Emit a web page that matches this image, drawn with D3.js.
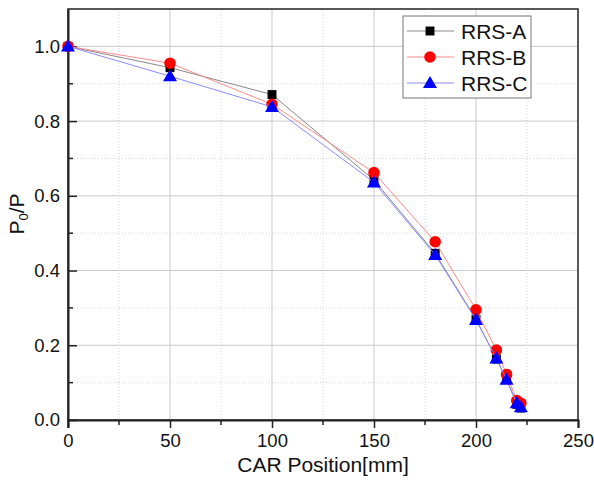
<!DOCTYPE html>
<html>
<head>
<meta charset="utf-8">
<script src="https://cdn.jsdelivr.net/npm/d3@7"></script>
<style>
  body { margin: 0; background: #fff; }
  text { font-family: Arial, "Liberation Sans", sans-serif; fill: #111; }
</style>
</head>
<body>
<div id="chart"></div>
<script>
// CAR positions (mm)
var carPosition = [0, 50, 100, 150, 180, 200, 210, 215, 220, 222];

// P0/P for each series
var rrsA = [1.0, 0.943, 0.871, 0.642, 0.446, 0.270, 0.163, 0.108, 0.042, 0.032];
var rrsB = [1.0, 0.955, 0.845, 0.662, 0.477, 0.295, 0.187, 0.122, 0.052, 0.045];
var rrsC = [1.0, 0.920, 0.838, 0.636, 0.442, 0.268, 0.165, 0.108, 0.045, 0.034];

var seriesNames = ["RRS-A", "RRS-B", "RRS-C"];

var xTicks = [0, 50, 100, 150, 200, 250];
var yTicks = [0.0, 0.2, 0.4, 0.6, 0.8, 1.0];
var xMinor = [25, 75, 125, 175, 225];
var yMinor = [0.1, 0.3, 0.5, 0.7, 0.9];

// SVG dimensions
var svgWidth = 594;
var svgHeight = 486;

var margin = { top: 9, right: 16, bottom: 66, left: 68 };
var chartWidth = svgWidth - margin.left - margin.right;
var chartHeight = svgHeight - margin.top - margin.bottom;

var svg = d3.select("#chart")
    .append("svg")
    .attr("width", svgWidth)
    .attr("height", svgHeight);

var chartGroup = svg.append("g")
    .attr("transform", `translate(${margin.left}, ${margin.top})`);

// Scales
var xScale = d3.scaleLinear().domain([0, 250]).range([0, chartWidth]);
var yScale = d3.scaleLinear().domain([0, 1.1]).range([chartHeight, 0]);

// Grid lines (minor dotted, major solid)
chartGroup.selectAll(".xminor").data(xMinor).enter().append("line")
    .attr("x1", d => xScale(d)).attr("x2", d => xScale(d))
    .attr("y1", 0).attr("y2", chartHeight)
    .attr("stroke", "#d8d8d8").attr("stroke-dasharray", "1,2");
chartGroup.selectAll(".yminor").data(yMinor).enter().append("line")
    .attr("x1", 0).attr("x2", chartWidth)
    .attr("y1", d => yScale(d)).attr("y2", d => yScale(d))
    .attr("stroke", "#d8d8d8").attr("stroke-dasharray", "1,2");
chartGroup.selectAll(".xmajor").data(xTicks.slice(1, -1)).enter().append("line")
    .attr("x1", d => xScale(d)).attr("x2", d => xScale(d))
    .attr("y1", 0).attr("y2", chartHeight)
    .attr("stroke", "#cacaca");
chartGroup.selectAll(".ymajor").data(yTicks.slice(1)).enter().append("line")
    .attr("x1", 0).attr("x2", chartWidth)
    .attr("y1", d => yScale(d)).attr("y2", d => yScale(d))
    .attr("stroke", "#cacaca");

// Frame on top and right
chartGroup.append("rect")
    .attr("width", chartWidth).attr("height", chartHeight)
    .attr("fill", "none").attr("stroke", "#222").attr("stroke-width", 1.5);

// Bottom axis, ticks pointing out
var bottomAxis = d3.axisBottom(xScale).tickValues(xTicks).tickSize(8).tickPadding(6)
    .tickFormat(d3.format("d"));
var xAxisG = chartGroup.append("g")
    .attr("transform", `translate(0, ${chartHeight})`)
    .call(bottomAxis);
xAxisG.selectAll(".xminortick").data(xMinor).enter().append("line")
    .attr("x1", d => xScale(d)).attr("x2", d => xScale(d))
    .attr("y1", 0).attr("y2", 5).attr("stroke", "#222").attr("stroke-width", 1.5);

// Left axis, ticks pointing in
var leftAxis = d3.axisLeft(yScale).tickValues(yTicks).tickSizeInner(-9).tickSizeOuter(0)
    .tickPadding(8).tickFormat(d3.format(".1f"));
var yAxisG = chartGroup.append("g").call(leftAxis);
yAxisG.selectAll(".yminortick").data(yMinor).enter().append("line")
    .attr("x1", 0).attr("x2", 5)
    .attr("y1", d => yScale(d)).attr("y2", d => yScale(d))
    .attr("stroke", "#222").attr("stroke-width", 1.5);
yAxisG.append("line").attr("x1", 0).attr("x2", 0).attr("y1", chartHeight).attr("y2", chartHeight + 8)
    .attr("stroke", "#222").attr("stroke-width", 1.5);

[xAxisG, yAxisG].forEach(function(g) {
    g.select(".domain").attr("stroke", "#222").attr("stroke-width", 2);
    g.selectAll(".tick line").attr("stroke", "#222").attr("stroke-width", 1.5);
    g.selectAll(".tick text").style("font-size", "18.5px").attr("fill", "#111")
        .style("font-family", "Arial, 'Liberation Sans', sans-serif");
});
yAxisG.selectAll(".tick text").attr("x", -8);
xAxisG.selectAll(".tick text").attr("dy", "0.72em");

// Series
var seriesData = [rrsA, rrsB, rrsC];
var lineColors = ["#8a8a8a", "#ff8a8a", "#8a8aff"];
var markColors = ["#000", "#ff0000", "#0000ff"];
var symbols = [d3.symbolSquare, d3.symbolCircle, d3.symbolTriangle];
var symSizes = [80, 105, 85];

var line = d3.line()
    .x(d => xScale(d.x))
    .y(d => yScale(d.y));

seriesData.forEach(function(vals, i) {
    var pts = carPosition.map((x, j) => ({ x: x, y: vals[j] }));
    var g = chartGroup.append("g");
    g.append("path").datum(pts)
        .attr("d", line)
        .attr("fill", "none")
        .attr("stroke", lineColors[i])
        .attr("stroke-width", 1);
    g.selectAll("path.mark").data(pts).enter().append("path")
        .attr("class", "mark")
        .attr("transform", d => `translate(${xScale(d.x)}, ${yScale(d.y) + (i == 2 ? 1 : 0)})`)
        .attr("d", d3.symbol().type(symbols[i]).size(symSizes[i]))
        .attr("fill", markColors[i]);
});

// Legend
var legend = svg.append("g").attr("transform", "translate(403, 16)");
legend.append("rect")
    .attr("width", 128).attr("height", 82)
    .attr("fill", "#fff").attr("stroke", "#777").attr("stroke-width", 1);
seriesNames.forEach(function(name, i) {
    var ly = 15 + i * 26;
    legend.append("line")
        .attr("x1", 4).attr("x2", 51).attr("y1", ly).attr("y2", ly)
        .attr("stroke", lineColors[i]).attr("stroke-width", 1);
    legend.append("path")
        .attr("transform", `translate(27, ${ly + (i == 2 ? 1 : 0)})`)
        .attr("d", d3.symbol().type(symbols[i]).size(symSizes[i]))
        .attr("fill", markColors[i]);
    legend.append("text")
        .attr("x", 58).attr("y", ly + 7.5)
        .style("font-size", "21px")
        .text(name);
});

// Axis titles
svg.append("text")
    .attr("x", margin.left + chartWidth / 2)
    .attr("y", 472)
    .attr("text-anchor", "middle")
    .style("font-size", "21px")
    .text("CAR Position[mm]");

var yTitle = svg.append("text")
    .attr("transform", "translate(24, 214) rotate(-90)")
    .attr("text-anchor", "middle")
    .style("font-size", "21px");
yTitle.append("tspan").text("P");
yTitle.append("tspan").attr("dy", 4).style("font-size", "13px").text("0");
yTitle.append("tspan").attr("dy", -4).text("/P");
</script>
</body>
</html>
